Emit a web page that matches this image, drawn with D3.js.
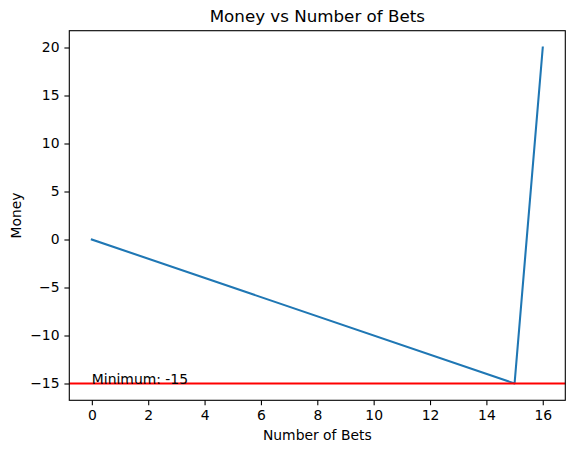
<!DOCTYPE html>
<html><head><meta charset="utf-8">
<script src="https://cdn.jsdelivr.net/npm/d3@7"></script>
<style>body{margin:0;background:#fff}svg{display:block}text{font-family:"DejaVu Sans",sans-serif}</style>
</head><body>
<script>
const bets = [0, 15, 16];
const money = [0, -15, 20];
const minimumValue = -15;
const xTicks = [0, 2, 4, 6, 8, 10, 12, 14, 16];
const yTicks = [-15, -10, -5, 0, 5, 10, 15, 20];
const title = "Money vs Number of Bets";
const xLabel = "Number of Bets";
const yLabel = "Money";

const W = 574, H = 453;
const L = 69.3, R = 565.3, T = 30.7, B = 400.3;
const svg = d3.select("body").append("svg").attr("width", W).attr("height", H);
svg.append("rect").attr("width", W).attr("height", H).attr("fill", "#fff");

const x = d3.scaleLinear().domain([-0.8, 16.8]).range([L, R]);
const y = d3.scaleLinear().domain([-16.75, 21.75]).range([B, T]);
const fmt = d => (d < 0 ? "\u2212" + Math.abs(d) : String(d));

const gx = svg.append("g").attr("transform", `translate(0,${B})`)
  .call(d3.axisBottom(x).tickValues(xTicks).tickFormat(fmt).tickSize(4.9).tickPadding(4.9));
const gy = svg.append("g").attr("transform", `translate(${L},0)`)
  .call(d3.axisLeft(y).tickValues(yTicks).tickFormat(fmt).tickSize(4.9).tickPadding(4.9));
[gx, gy].forEach(g => {
  g.select(".domain").remove();
  g.selectAll(".tick line").attr("stroke", "#000").attr("stroke-width", 1.1);
  g.selectAll(".tick text").attr("fill", "#000").style("font-size", "13.9px").style("font-family", "DejaVu Sans");
});

const data = bets.map((b, i) => [b, money[i]]);
svg.append("path").datum(data)
  .attr("d", d3.line().x(d => x(d[0])).y(d => y(d[1])))
  .attr("fill", "none").attr("stroke", "#1f77b4").attr("stroke-width", 2.08)
  .attr("stroke-linejoin", "round").attr("stroke-linecap", "square");

svg.append("line").attr("x1", L).attr("x2", R).attr("y1", y(minimumValue)).attr("y2", y(minimumValue))
  .attr("stroke", "red").attr("stroke-width", 2.08);

svg.append("text").attr("x", x(0)).attr("y", y(minimumValue)).attr("fill", "#000")
  .style("font-size", "13.9px").text("Minimum: " + minimumValue);

svg.append("rect").attr("x", L).attr("y", T).attr("width", R - L).attr("height", B - T)
  .attr("fill", "none").attr("stroke", "#000").attr("stroke-width", 1.1);

svg.append("text").attr("x", (L + R) / 2).attr("y", T - 8.3).attr("text-anchor", "middle")
  .attr("fill", "#000").style("font-size", "16.7px").text(title);
svg.append("text").attr("x", (L + R) / 2).attr("y", 440).attr("text-anchor", "middle")
  .attr("fill", "#000").style("font-size", "13.9px").text(xLabel);
svg.append("text").attr("transform", `translate(21,${(T + B) / 2}) rotate(-90)`).attr("text-anchor", "middle")
  .attr("fill", "#000").style("font-size", "13.9px").text(yLabel);
</script>
</body></html>
